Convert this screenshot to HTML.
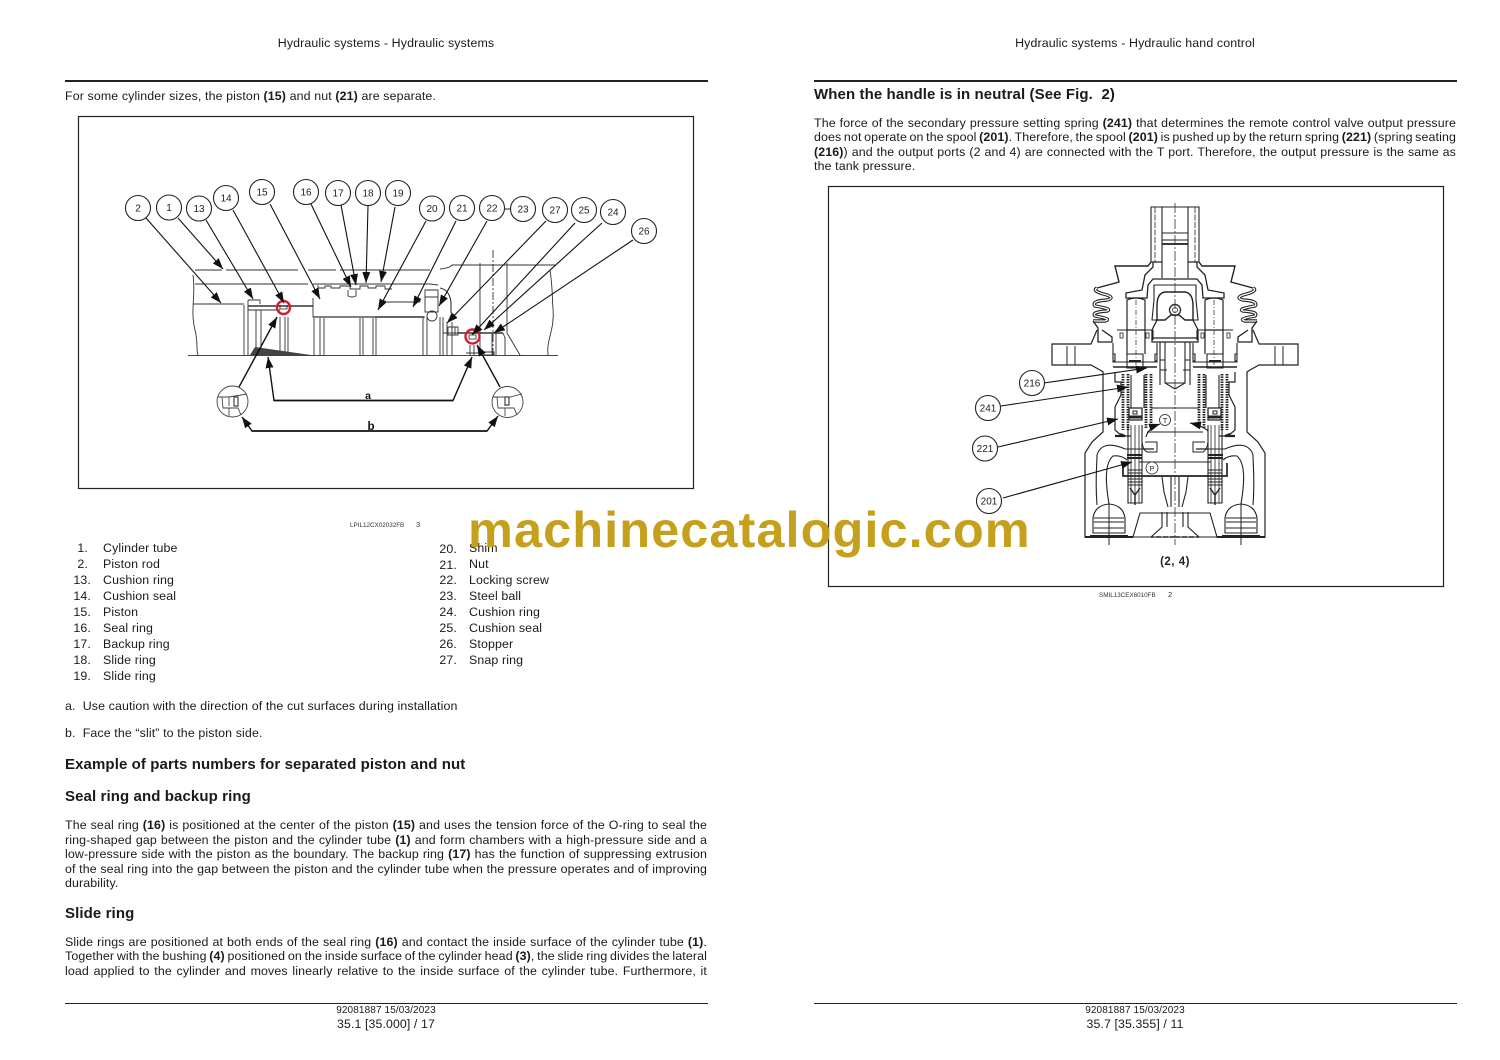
<!DOCTYPE html>
<html>
<head>
<meta charset="utf-8">
<style>
html,body{margin:0;padding:0;background:#fff}
#p{position:relative;width:1500px;height:1060px;overflow:hidden;background:#fff;font-family:"Liberation Sans",sans-serif;color:#1a1a1a;font-size:12.4px;letter-spacing:.12px}
.t{position:absolute;white-space:nowrap;line-height:14px;height:14px}
.j{width:642px;text-align:justify;text-align-last:justify;white-space:normal;word-spacing:-2px;overflow:visible}
.l{left:65px}.r{left:814px}
.c{width:642px;text-align:center}
.h{font-weight:bold;font-size:15px;line-height:16px;height:16px;letter-spacing:.1px}
.n{width:30px;text-align:right}
.rule{position:absolute;height:1.6px;width:642.500px;background:#222}
svg{position:absolute;left:0;top:0}
svg text{font-family:"Liberation Sans",sans-serif;letter-spacing:0}
#w{position:absolute;left:468px;top:500px;font-weight:bold;font-size:50.5px;line-height:60px;color:#c5a01c;white-space:nowrap;letter-spacing:1.05px}
</style>
</head>
<body>
<div id="p">
<div class="t c" style="left:65px;top:36px">Hydraulic systems - Hydraulic systems</div>
<div class="t c" style="left:814px;top:36px">Hydraulic systems - Hydraulic hand control</div>
<div class="rule" style="left:65px;top:80px"></div>
<div class="rule" style="left:814px;top:80px"></div>
<div class="rule" style="left:65px;top:1002.500px"></div>
<div class="rule" style="left:814px;top:1002.500px"></div>

<div class="t l" style="top:89px">For some cylinder sizes, the piston <b>(15)</b> and nut <b>(21)</b> are separate.</div>

<svg width="1500" height="1060" viewBox="0 0 1500 1060">
<defs>
<marker id="a" viewBox="0 0 11 8" refX="11" refY="4" markerWidth="11" markerHeight="8" markerUnits="userSpaceOnUse" orient="auto"><path d="M0 0L11 4L0 8Z" fill="#111"/></marker>
<g id="half" fill="none" stroke="#222" stroke-width="1">
  <path d="M0 207H24V262H13M13 207V278" stroke-width="1.100"/>
  <path d="M20 207V262" stroke-dasharray="6 1.500" stroke-width="0.800"/>
  <path d="M0 233H13M0 240H13" />
  <path d="M0 244H13" stroke-width="1.800"/>
  <path d="M24 262L27 266H60L56 282L78 288" stroke-width="1.400"/>
  <path d="M13 262H22V267L30 275L33 290L49 293V298H28L27 285L22 279H0" stroke-width="1.300"/>
  <path d="M78 288Q84 291 68 295Q60 298 68 300Q84 301 80 306Q62 309 68 311Q84 312 80 316Q62 319 70 321L82 321" stroke-width="3.400"/>
  <path d="M78 288Q84 291 68 295Q60 298 68 300Q84 301 80 306Q62 309 68 311Q84 312 80 316Q62 319 70 321L82 321" stroke="#fff" stroke-width="1.300"/>
  <path d="M82 321L77 328V342H63V337L73 330" stroke-width="1.300"/>
  <path d="M58 330H22M22 330V340" stroke-width="1.100"/>
  <path d="M0 292H10Q18 293 18 306V320H10L4 315H0" stroke-width="1.400"/>
  <path d="M0 285H21V300L23 320H18" stroke-width="1.100"/>
  <path d="M23 330V338H0M23 330L18 320M23 338V342H0" stroke-width="1.300"/>
  <path d="M15 342V385M10 342V383L0 389" stroke-width="1.100"/>
  <path d="M10 360H15M8 370H15M10 383H0" />
  <path d="M30 300Q39 296 48 300V330H30Z" stroke-width="1.200"/>
  <path d="M30 330V354M48 330V354" stroke-width="1.200"/>
  <path d="M39 300V365" stroke-dasharray="5 2 1 2" stroke-width="0.700"/>
  <path d="M32 354H48V368H32ZM34 361H46" stroke-width="1.100"/>
  <path d="M34 361H46" stroke-width="2"/>
  <path d="M62 343V362H18V343M60 354H62V361H60ZM18 354H20V361H18Z" stroke-width="1.100"/>
  <path d="M18 367H62" stroke-width="1.500"/>
  <rect x="52" y="333" width="3" height="5" stroke-width="0.800"/>
  <rect x="26" y="333" width="3" height="5" stroke-width="0.800"/>
  <path d="M78 330L84 344H123V365H84L75 370L72 372V432L83 442L90 453V537H42" stroke-width="1.200"/>
  <path d="M100 346V365M108 346V365" />
  <path d="M0 537H42L35 513H0" stroke-width="1.100"/>
  <path d="M42 537H90" stroke-width="2"/>
  <path d="M0 537H24" stroke-width="1.600" stroke-dasharray="5 2"/>
  <path d="M13 512V527L24 537M8 512V527" stroke-width="1.100"/>
  <path d="M13 477L11 492L7 507M4 477V507" stroke-width="1.100"/>
  <path d="M0 476H52V463" stroke-width="1.700"/>
  <path d="M0 462H36" />
  <path d="M0 408H24M0 432H28" stroke-width="1.100"/>
  <path d="M78 505C80 480 78 465 78 455C75 445 65 442 50 449H26" stroke-width="1.100"/>
  <path d="M66 504C70 480 70 463 62 456C55 455 50 458 48 460" stroke-width="1.100"/>
  <path d="M66 503V545" />
  <path d="M50 533V518Q52 505 66 504Q80 505 82 518V533ZM51 518H81M51 522H81M51 528H81" stroke-width="1.100"/>
  <path d="M47 536H85" stroke-width="2"/>
  <path d="M24 374V428M29 374V428" stroke-width="2.800" stroke-dasharray="1.500 1"/>
  <path d="M47 374V430M52 374V430" stroke-width="2.800" stroke-dasharray="1.500 1"/>
  <path d="M60 372V382H54V395L60 407V430L53 436H44" stroke-width="1.200"/>
  <path d="M55 434L50 436H60" stroke-width="2.200"/>
  <path d="M31 375V408M44 375V408" stroke-width="1.100"/>
  <path d="M33 408H46V420H33Z" stroke-width="1.300"/>
  <path d="M33 417H46" stroke-width="3"/>
  <rect x="38" y="411" width="4" height="3" stroke-width="1"/>
  <path d="M33 425V503H47V425" stroke-width="1.100"/>
  <path d="M36 425V503M40 425V503M44 425V503" stroke-width="0.800"/>
  <path d="M33 455H48M33 458H48" stroke-width="2"/>
  <path d="M33 470H47M33 473H47M33 476H47M33 479H47M33 482H47M33 485H47" stroke-width="1.100"/>
  <path d="M35 488L40 495L45 488M40 495V505" stroke-width="1.400"/>
  <path d="M30 442H18V452H28Q32 450 33 442" stroke-width="1"/>
  <path d="M21 449H33" stroke-width="1.300"/>
</g>
</defs>

<!-- Left figure frame -->
<rect x="78.500" y="116.500" width="615" height="372" fill="none" stroke="#222" stroke-width="1.200"/>
<g fill="none" stroke="#333" stroke-width="0.9">
  <path d="M195 270H222M226 270H298M308 270H336M340 270H430M440 269Q450 268 452 265H555"/>
  <path d="M195 284H308M313 284H430L438 285"/>
  <path d="M193 275C196 295 190 310 195 330C198 340 196 350 198 355" />
  <path d="M193 304H244" />
  <path d="M248 306H313" stroke-width="1.500"/>
  <path d="M248 300H260V304M248 300V310H280" />
  <path d="M313 298V317H425"/>
  <path d="M313 317H375" stroke-width="1.300"/>
  <path d="M375 317H424" stroke-width="1.500"/>
  <path d="M318 285V288H325V286H331V288H340V286H350V289H360V286H368V288H376V286H385V289H392" />
  <path d="M348 290V296Q352 298 356 296V290" />
  <path d="M188 355.500H558" stroke="#444" stroke-width="1"/>
  <path d="M244 305V355M248 306V355M256 310V355M261 310V355M280 317V355M285 317V355M288 317V355M314 318V355M320 318V355M324 318V355M360 318V355M363 318V355M373 318V355M376 318V355" />
  <path d="M385 302H420M385 302V300M420 302V300" />
  <path d="M423 317V355M427 317V355M440 317V355M443 317V355M447 322V355M452 322V355" />
  <path d="M425 290H438V312H425ZM425 297H438" />
  <circle cx="432" cy="316" r="5"/>
  <path d="M440 288Q450 290 451 303V313" stroke-width="1.100"/>
  <path d="M443 323V333H458M448 327H458V335H448ZM452 327V335M455 327V335" />
  <path d="M458 333H503" stroke-width="1.400"/>
  <path d="M480 263V355M507 263V333" />
  <path d="M493 250V355" stroke-dasharray="8 2 2 2"/>
  <path d="M470 345V355M474 345V355" />
  <path d="M492 333V355M496 333V355M503 333L505 338V355M507 333L520 355" />
  <path d="M550 270C553 290 552 300 553 308C555 330 546 340 548 355" />
  <path d="M484 352H494V355H484ZM466 353H480" />
</g>
<path d="M250 355L255 347L311 355Z" fill="#444"/>
<g fill="none" stroke="#cf2030" stroke-width="2.400">
  <circle cx="283.500" cy="307.500" r="6.500"/>
  <circle cx="472.500" cy="336.500" r="7"/>
</g>
<g fill="none" stroke="#222" stroke-width="0.800">
  <path d="M280 305V309H287V305" />
  <path d="M469 335H476V339H469Z" />
</g>
<g stroke="#111" stroke-width="1.100" fill="none">
  <line x1="146" y1="218" x2="221" y2="303" marker-end="url(#a)"/>
  <line x1="178" y1="218" x2="223" y2="269" marker-end="url(#a)"/>
  <line x1="206" y1="220" x2="253" y2="299" marker-end="url(#a)"/>
  <line x1="233" y1="210" x2="284" y2="303" marker-end="url(#a)"/>
  <line x1="270" y1="204" x2="320" y2="299" marker-end="url(#a)"/>
  <line x1="311" y1="204" x2="351" y2="287" marker-end="url(#a)"/>
  <line x1="341" y1="205" x2="356" y2="285" marker-end="url(#a)"/>
  <line x1="368" y1="206" x2="366" y2="283" marker-end="url(#a)"/>
  <line x1="395" y1="207" x2="381" y2="282" marker-end="url(#a)"/>
  <line x1="426" y1="221" x2="378" y2="310" marker-end="url(#a)"/>
  <line x1="456" y1="221" x2="413" y2="307" marker-end="url(#a)"/>
  <line x1="487" y1="221" x2="439" y2="306" marker-end="url(#a)"/>
  <line x1="546" y1="221" x2="447" y2="323" marker-end="url(#a)"/>
  <line x1="575" y1="223" x2="472" y2="335" marker-end="url(#a)"/>
  <line x1="602" y1="223" x2="484" y2="330" marker-end="url(#a)"/>
  <line x1="633" y1="240" x2="494" y2="333" marker-end="url(#a)"/>
  <line x1="239" y1="387" x2="277" y2="317" stroke-width="1.400" marker-end="url(#a)"/>
  <line x1="500" y1="387" x2="477" y2="345" stroke-width="1.400" marker-end="url(#a)"/>
  <polyline points="274,400.500 453,400.500 472,357" stroke-width="1.400" marker-end="url(#a)"/>
  <polyline points="453,400.500 274,400.500 268,357" stroke-width="1.400" marker-end="url(#a)"/>
  <polyline points="252,431 487,431 498,416" stroke-width="1.400" marker-end="url(#a)"/>
  <polyline points="487,431 252,431 242,417" stroke-width="1.400" marker-end="url(#a)"/>
</g>
<line x1="504" y1="209" x2="511" y2="209" stroke="#222"/>
<g fill="#fff" stroke="#222" stroke-width="1.100">
<circle cx="138" cy="208" r="12.500"/><circle cx="169" cy="207.500" r="12.500"/><circle cx="199" cy="208.500" r="12.500"/><circle cx="226" cy="198" r="12.500"/><circle cx="262" cy="192" r="12.500"/><circle cx="306" cy="192" r="12.500"/><circle cx="338" cy="193" r="12.500"/><circle cx="368" cy="193" r="12.500"/><circle cx="398" cy="193" r="12.500"/><circle cx="432" cy="208.500" r="12.500"/><circle cx="462" cy="208" r="12.500"/><circle cx="492" cy="208" r="12.500"/><circle cx="523" cy="209" r="12.500"/><circle cx="555" cy="210" r="12.500"/><circle cx="584" cy="210" r="12.500"/><circle cx="613" cy="212" r="12.500"/><circle cx="644" cy="231" r="12.500"/>
</g>
<g font-size="10" fill="#222" text-anchor="middle">
<text x="138" y="211.500">2</text><text x="169" y="211">1</text><text x="199" y="212">13</text><text x="226" y="201.500">14</text><text x="262" y="195.500">15</text><text x="306" y="195.500">16</text><text x="338" y="196.500">17</text><text x="368" y="196.500">18</text><text x="398" y="196.500">19</text><text x="432" y="212">20</text><text x="462" y="211.500">21</text><text x="492" y="211.500">22</text><text x="523" y="212.500">23</text><text x="555" y="213.500">27</text><text x="584" y="213.500">25</text><text x="613" y="215.500">24</text><text x="644" y="234.500">26</text>
</g>
<g fill="#fff" stroke="#444" stroke-width="0.900">
  <circle cx="232.500" cy="401.500" r="15.500"/>
  <circle cx="507.500" cy="402" r="15.500"/>
</g>
<g fill="none" stroke="#444" stroke-width="0.900">
  <path d="M218 397H229L247 394M222 397L223 408L238 408L241 415M229 408V416M229 397V406" />
  <path d="M493 397H510L522 394M497 397L498 408L514 408L517 415M505 408V416M505 397V406" />
  <path d="M234 397V406H238V397ZM505 397V405H509V397Z" stroke-width="1.200"/>
</g>
<text x="368" y="399" font-size="10.500" font-weight="bold" text-anchor="middle" fill="#111">a</text>
<text x="371" y="430" font-size="11.500" font-weight="bold" text-anchor="middle" fill="#111">b</text>
<text x="350" y="527" font-size="6.300" fill="#333">LPIL12CX02032FB</text>
<text x="416" y="527" font-size="7.500" fill="#333">3</text>

<!-- Right figure frame -->
<rect x="828.500" y="186.500" width="615" height="400" fill="none" stroke="#222" stroke-width="1.200"/>
<use href="#half" transform="translate(1175,0)"/>
<use href="#half" transform="translate(1175,0) scale(-1,1)"/>
<g stroke="#333" stroke-width="0.800" fill="none">
  <path d="M1175 203V545" stroke-dasharray="10 2 2 2"/>
  <circle cx="1175" cy="310" r="5.500" stroke-width="1.400"/>
  <circle cx="1175" cy="310" r="2.500"/>
</g>
<g stroke="#111" stroke-width="1.100" fill="none">
  <line x1="1044" y1="383" x2="1147" y2="368" marker-end="url(#a)"/>
  <line x1="1001" y1="406" x2="1128" y2="387" marker-end="url(#a)"/>
  <line x1="998" y1="447" x2="1118" y2="419" marker-end="url(#a)"/>
  <line x1="1003" y1="498" x2="1132" y2="462" marker-end="url(#a)"/>
  <path d="M1146 437Q1148 428 1160 424" marker-end="url(#a)"/>
  <path d="M1208 431Q1203 426 1190 423" marker-end="url(#a)"/>
</g>
<g fill="#fff" stroke="#222" stroke-width="1.100">
  <circle cx="1032" cy="383" r="12.500"/><circle cx="988" cy="408" r="12.500"/><circle cx="985" cy="448.500" r="12.500"/><circle cx="989" cy="501" r="12.500"/>
  <circle cx="1165" cy="420" r="5.500" stroke-width="0.800"/><circle cx="1152" cy="468" r="6" stroke-width="0.800"/>
</g>
<g font-size="10" fill="#222" text-anchor="middle">
  <text x="1032" y="386.500">216</text><text x="988" y="411.500">241</text><text x="985" y="452">221</text><text x="989" y="504.500">201</text>
  <text x="1165" y="423" font-size="7.500">T</text><text x="1152" y="471" font-size="7.500">P</text>
</g>
<text x="1175" y="565" font-size="11.500" font-weight="bold" text-anchor="middle" fill="#222" style="letter-spacing:.5px">(2, 4)</text>
<text x="1099" y="597" font-size="6.300" fill="#333">SMIL13CEX6010FB</text>
<text x="1168" y="597" font-size="7.500" fill="#333">2</text>
</svg>

<!-- Left list -->
<div class="t n" style="left:58px;top:541px">1.</div><div class="t" style="left:103px;top:541px">Cylinder tube</div>
<div class="t n" style="left:58px;top:557px">2.</div><div class="t" style="left:103px;top:557px">Piston rod</div>
<div class="t n" style="left:61px;top:573px">13.</div><div class="t" style="left:103px;top:573px">Cushion ring</div>
<div class="t n" style="left:61px;top:589px">14.</div><div class="t" style="left:103px;top:589px">Cushion seal</div>
<div class="t n" style="left:61px;top:605px">15.</div><div class="t" style="left:103px;top:605px">Piston</div>
<div class="t n" style="left:61px;top:621px">16.</div><div class="t" style="left:103px;top:621px">Seal ring</div>
<div class="t n" style="left:61px;top:637px">17.</div><div class="t" style="left:103px;top:637px">Backup ring</div>
<div class="t n" style="left:61px;top:653px">18.</div><div class="t" style="left:103px;top:653px">Slide ring</div>
<div class="t n" style="left:61px;top:669px">19.</div><div class="t" style="left:103px;top:669px">Slide ring</div>

<div class="t n" style="left:427px;top:542px">20.</div><div class="t" style="left:469px;top:541px">Shim</div>
<div class="t n" style="left:427px;top:558px">21.</div><div class="t" style="left:469px;top:557px">Nut</div>
<div class="t n" style="left:427px;top:573px">22.</div><div class="t" style="left:469px;top:573px">Locking screw</div>
<div class="t n" style="left:427px;top:589px">23.</div><div class="t" style="left:469px;top:589px">Steel ball</div>
<div class="t n" style="left:427px;top:605px">24.</div><div class="t" style="left:469px;top:605px">Cushion ring</div>
<div class="t n" style="left:427px;top:621px">25.</div><div class="t" style="left:469px;top:621px">Cushion seal</div>
<div class="t n" style="left:427px;top:637px">26.</div><div class="t" style="left:469px;top:637px">Stopper</div>
<div class="t n" style="left:427px;top:653px">27.</div><div class="t" style="left:469px;top:653px">Snap ring</div>

<div class="t l" style="top:699px">a.&nbsp; Use caution with the direction of the cut surfaces during installation</div>
<div class="t l" style="top:726px">b.&nbsp; Face the “slit” to the piston side.</div>
<div class="t l h" style="top:757px">Example of parts numbers for separated piston and nut</div>
<div class="t l h" style="top:789px">Seal ring and backup ring</div>
<div class="t l j" style="top:818px">The seal ring <b>(16)</b> is positioned at the center of the piston <b>(15)</b> and uses the tension force of the O-ring to seal the</div>
<div class="t l j" style="top:833px">ring-shaped gap between the piston and the cylinder tube <b>(1)</b> and form chambers with a high-pressure side and a</div>
<div class="t l j" style="top:847px">low-pressure side with the piston as the boundary. The backup ring <b>(17)</b> has the function of suppressing extrusion</div>
<div class="t l j" style="top:862px">of the seal ring into the gap between the piston and the cylinder tube when the pressure operates and of improving</div>
<div class="t l" style="top:876px">durability.</div>
<div class="t l h" style="top:906px">Slide ring</div>
<div class="t l j" style="top:935px">Slide rings are positioned at both ends of the seal ring <b>(16)</b> and contact the inside surface of the cylinder tube <b>(1)</b>.</div>
<div class="t l j" style="top:949px">Together with the bushing <b>(4)</b> positioned on the inside surface of the cylinder head <b>(3)</b>, the slide ring divides the lateral</div>
<div class="t l j" style="top:964px">load applied to the cylinder and moves linearly relative to the inside surface of the cylinder tube. Furthermore, it</div>

<div class="t r h" style="top:87px">When the handle is in neutral (See Fig.&nbsp; 2)</div>
<div class="t r j" style="top:116px">The force of the secondary pressure setting spring <b>(241)</b> that determines the remote control valve output pressure</div>
<div class="t r j" style="top:130px">does not operate on the spool <b>(201)</b>. Therefore, the spool <b>(201)</b> is pushed up by the return spring <b>(221)</b> (spring seating</div>
<div class="t r j" style="top:145px"><b>(216)</b>) and the output ports (2 and 4) are connected with the T port. Therefore, the output pressure is the same as</div>
<div class="t r" style="top:159px">the tank pressure.</div>

<div class="t c" style="left:65px;top:1004px;font-size:10px">92081887 15/03/2023</div>
<div class="t c" style="left:814px;top:1004px;font-size:10px">92081887 15/03/2023</div>
<div class="t c" style="left:65px;top:1017px;font-size:12.300px">35.1 [35.000] / 17</div>
<div class="t c" style="left:814px;top:1017px;font-size:12.300px">35.7 [35.355] / 11</div>

<div id="w">machinecatalogic.com</div>
</div>
</body>
</html>
